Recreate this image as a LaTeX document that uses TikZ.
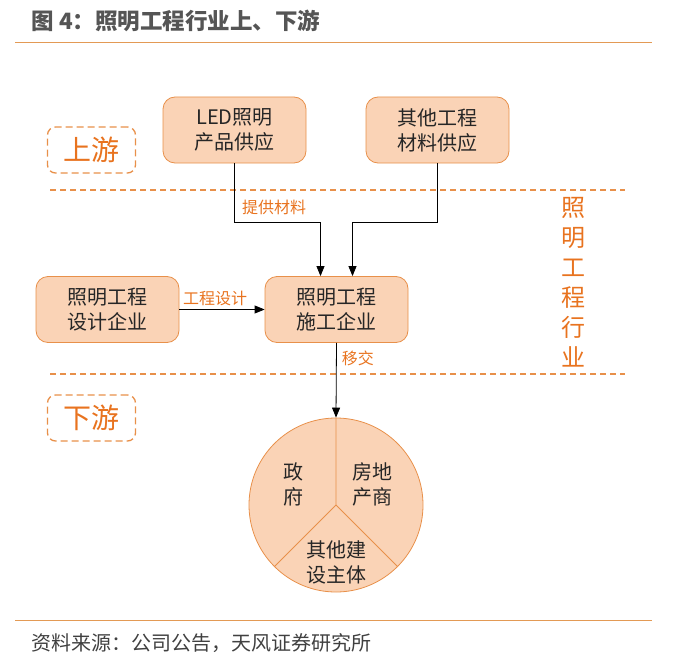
\documentclass[tikz,border=0pt]{standalone}
\usepackage{fontspec}
\setmainfont{Noto Sans CJK SC}
\usepackage{xcolor}
\usetikzlibrary{arrows.meta, positioning}

\definecolor{peach}{HTML}{FAD3B6}
\definecolor{rimorange}{HTML}{E8904A}
\definecolor{txtorange}{HTML}{E8731F}
\definecolor{rulecol}{HTML}{E39A55}
\definecolor{titlegray}{HTML}{555555}

\begin{document}
\begin{tikzpicture}[
  x=1pt, y=-1pt,
  box/.style={
    rectangle, rounded corners=12pt,
    draw=rimorange, fill=peach, line width=0.8pt,
    minimum width=143pt, minimum height=66pt,
    align=center, font=\fontsize{20}{25}\selectfont, text=black!85
  },
  tag/.style={
    rectangle, rounded corners=8pt,
    draw=rimorange, dashed, dash pattern=on 7pt off 4pt, line width=1.3pt,
    minimum width=88pt, minimum height=46pt,
    font=\fontsize{28}{30}\selectfont, text=txtorange
  },
  lbl/.style={font=\fontsize{16}{18}\selectfont, text=txtorange, inner sep=1pt},
  sector/.style={align=center, font=\fontsize{20}{25}\selectfont, text=black!85},
  sepline/.style={draw=rimorange, line width=1.3pt, dash pattern=on 6pt off 4pt},
  arrow/.style={-{Triangle[length=10pt,width=8pt]}, line width=0.8pt, black}
]
\useasboundingbox (0,0) rectangle (677,666);

% ---- Title and footer ----
\node[anchor=west, font=\fontsize{22.5}{25}\selectfont\bfseries, text=titlegray]
      (title) at (28,21) {图 4：照明工程行业上、下游};
\draw[rulecol, line width=1pt] (15,43) -- (652,43);
\draw[rulecol, line width=1pt] (15,620) -- (652,620);
\node[anchor=west, font=\fontsize{20}{22}\selectfont, text=black!75]
      (source) at (28,643) {资料来源：公司公告，天风证券研究所};

% ---- Upstream ----
\node[box] (led)   at (234.5,130) {LED照明\\产品供应};
\node[box] (other) at (437.5,130) {其他工程\\材料供应};
\node[tag] (up)    at (91.5,150)  {上游};
\draw[sepline] (50,190) -- (625,190);

% ---- Lighting engineering ----
\node[box] (design) at (107.5,309.5) {照明工程\\设计企业};
\node[box] (build)  at (336.5,309.5) {照明工程\\施工企业};
\node[align=center, font=\fontsize{24}{30}\selectfont, text=txtorange]
      (industry) at (573,282) {照\\明\\工\\程\\行\\业};
\draw[sepline] (50,374) -- (625,374);

% ---- Downstream ----
\node[tag] (down) at (91.5,418) {下游};
\node[circle, draw=rimorange, fill=peach, line width=0.8pt,
      minimum size=174pt, inner sep=0pt] (pie) at (336,505) {};
\draw[rimorange, line width=0.8pt] (pie.north) -- (pie.center) -- (pie.225);
\draw[rimorange, line width=0.8pt] (pie.center) -- (pie.-45);
\node[sector] (gov)    at (293,484) {政\\府};
\node[sector] (estate) at (372,484) {房地\\产商};
\node[sector] (others) at (336,562) {其他建\\设主体};

% ---- Arrows ----
\draw[arrow] (led.south)   -- ++(0,59) -| ([xshift=-16pt]build.north);
\draw[arrow] (other.south) -- ++(0,59) -| ([xshift=16pt]build.north);
\draw[arrow] (design) -- (build)
  node[lbl, pos=0.42, above=2pt] (lbldesign) {工程设计};
\draw[arrow] (build.south) -- (pie.north)
  node[lbl, pos=0.21, right=4pt] (lblhand) {移交};
\node[lbl, anchor=west] (lblsupply) at (241,207) {提供材料};

\end{tikzpicture}
\end{document}
